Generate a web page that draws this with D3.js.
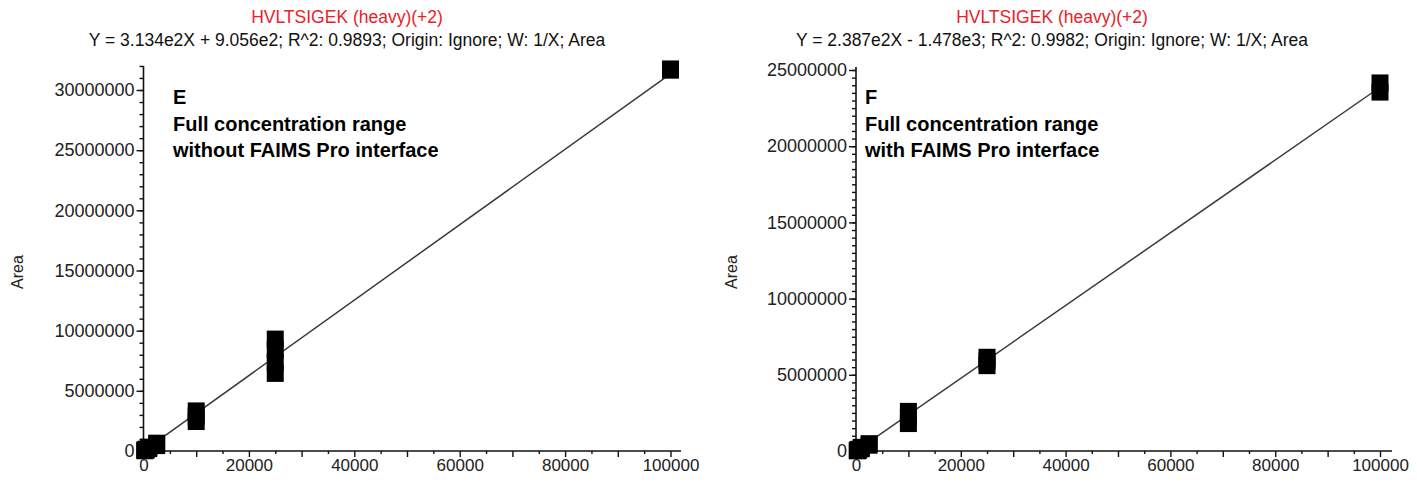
<!DOCTYPE html>
<html>
<head>
<meta charset="utf-8">
<script src="https://cdn.jsdelivr.net/npm/d3@7"></script>
<style>
  html, body { margin: 0; padding: 0; background: #fff; }
  svg { display: block; }
  .narrow { font-family: "Liberation Sans", Arial, Helvetica, sans-serif; }
  .bold { font-family: "Liberation Sans", Arial, Helvetica, sans-serif; font-weight: bold; }
</style>
</head>
<body>
<svg id="chart" width="1417" height="483"></svg>
<script>
// ---------- data ----------
const peptide = "HVLTSIGEK (heavy)(+2)";
const equations = [
  "Y = 3.134e2X + 9.056e2; R^2: 0.9893; Origin: Ignore; W: 1/X; Area",
  "Y = 2.387e2X - 1.478e3; R^2: 0.9982; Origin: Ignore; W: 1/X; Area"
];
const panelLetters = ["E", "F"];
const panelLine1 = ["Full concentration range", "Full concentration range"];
const panelLine2 = ["without FAIMS Pro interface", "with FAIMS Pro interface"];
const slopes = [313.4, 238.7];
const intercepts = [905.6, -1478];
const fitRange = [250, 100000];
const xTickLabels = [0, 20000, 40000, 60000, 80000, 100000];
const yTickLabelsE = [0, 5000000, 10000000, 15000000, 20000000, 25000000, 30000000];
const yTickLabelsF = [0, 5000000, 10000000, 15000000, 20000000, 25000000];

// replicate measurements (concentration, area)
const concE = [250, 250, 500, 500, 1000, 1000, 2500, 2500, 10000, 10000, 10000, 25000, 25000, 25000, 25000, 100000, 100000];
const areaE = [20000, 90000, 80000, 150000, 200000, 320000, 450000, 650000, 2450000, 2900000, 3330000, 6450000, 7400000, 8400000, 9300000, 31650000, 31750000];
const concF = [250, 250, 500, 500, 1000, 1000, 2500, 2500, 10000, 10000, 10000, 25000, 25000, 25000, 100000, 100000];
const areaF = [10000, 60000, 50000, 110000, 150000, 240000, 380000, 480000, 1800000, 2200000, 2600000, 5600000, 5900000, 6150000, 23550000, 24150000];

// ---------- layout ----------
const panels = [
  { x0: 143.5, x1: 670.5, xEnd: 102000, yTop: 32000000, yTopPx: 451 - 32 * 12.033,
    yTicks: yTickLabelsE, yMinorStep: 1000000, conc: concE, area: areaE, cx: 347, labelX: 18, annX: 173 },
  { x0: 856, x1: 1380, xEnd: 102300, yTop: 25200000, yTopPx: 451 - 25.2 * 15.24,
    yTicks: yTickLabelsF, yMinorStep: 500000, conc: concF, area: areaF, cx: 1052, labelX: 732, annX: 865 }
];
const y0px = 451;
const sq = 17;

const svg = d3.select("#chart");

panels.forEach((p, i) => {
  const x = d3.scaleLinear().domain([0, 100000]).range([p.x0, p.x1]);
  const y = d3.scaleLinear().domain([0, p.yTop]).range([y0px, p.yTopPx]);
  const g = svg.append("g");

  // titles
  g.append("text").attr("class", "narrow").attr("x", p.cx).attr("y", 23)
    .attr("text-anchor", "middle").attr("font-size", 17.5).attr("fill", "#ec2027").text(peptide);
  g.append("text").attr("class", "narrow").attr("x", p.cx).attr("y", 46)
    .attr("text-anchor", "middle").attr("font-size", 17.5).attr("fill", "#111").text(equations[i]);

  // y label
  g.append("text").attr("class", "narrow").attr("font-size", 16).attr("fill", "#222")
    .attr("transform", `translate(${p.labelX + 5},${272}) rotate(-90)`)
    .attr("text-anchor", "middle").text("Area");

  // y axis: minor ticks
  const yMinor = d3.range(0, p.yTop + 1, p.yMinorStep);
  const yAxisMinor = d3.axisLeft(y).tickValues(yMinor).tickSize(4).tickFormat("");
  const ga1 = g.append("g").attr("transform", `translate(${p.x0},0)`).call(yAxisMinor);
  ga1.select(".domain").remove();
  ga1.selectAll("line").attr("stroke", "#111").attr("stroke-width", 1.4);

  const yAxis = d3.axisLeft(y).tickValues(p.yTicks).tickSize(7).tickPadding(2).tickFormat(d3.format("d"));
  const ga = g.append("g").attr("transform", `translate(${p.x0},0)`).call(yAxis);
  ga.select(".domain").remove();
  ga.selectAll("line").attr("stroke", "#111").attr("stroke-width", 1.4);
  ga.selectAll("text").attr("class", "narrow").attr("font-size", 18).attr("fill", "#222");
  g.append("line").attr("x1", p.x0).attr("x2", p.x0).attr("y1", y(0) + 2).attr("y2", p.yTopPx)
    .attr("stroke", "#111").attr("stroke-width", 1.6);

  // x axis
  const xMinor = d3.range(5000, p.xEnd, 10000);
  const xAxisMinor = d3.axisBottom(x).tickValues(xMinor).tickSize(3).tickFormat("");
  const gx1 = g.append("g").attr("transform", `translate(0,${y0px})`).call(xAxisMinor);
  gx1.select(".domain").remove();
  gx1.selectAll("line").attr("stroke", "#111").attr("stroke-width", 1.4);

  const xMid = d3.range(10000, p.xEnd, 20000);
  const xAxisMid = d3.axisBottom(x).tickValues(xMid).tickSize(6).tickFormat("");
  const gx2 = g.append("g").attr("transform", `translate(0,${y0px})`).call(xAxisMid);
  gx2.select(".domain").remove();
  gx2.selectAll("line").attr("stroke", "#111").attr("stroke-width", 1.4);

  const xAxis = d3.axisBottom(x).tickValues(xTickLabels).tickSize(6).tickPadding(2).tickFormat(d3.format("d"));
  const gx = g.append("g").attr("transform", `translate(0,${y0px})`).call(xAxis);
  gx.select(".domain").remove();
  gx.selectAll("line").attr("stroke", "#111").attr("stroke-width", 1.4);
  gx.selectAll("text").attr("class", "narrow").attr("font-size", 17).attr("fill", "#222");
  g.append("line").attr("x1", p.x0).attr("x2", x(p.xEnd)).attr("y1", y0px).attr("y2", y0px)
    .attr("stroke", "#111").attr("stroke-width", 1.6);

  // fit line
  const fitLine = d3.line().x(d => x(d)).y(d => y(slopes[i] * d + intercepts[i]));
  g.append("path").datum(fitRange).attr("d", fitLine)
    .attr("fill", "none").attr("stroke", "#3a3a3a").attr("stroke-width", 1.5);

  // points
  const pts = p.conc.map((c, k) => ({ c, a: p.area[k] }));
  g.selectAll("rect.pt").data(pts).join("rect").attr("class", "pt")
    .attr("x", d => x(d.c) - sq / 2).attr("y", d => y(d.a) - sq / 2)
    .attr("width", sq).attr("height", sq).attr("fill", "#000");

  // annotation
  const ann = g.append("text").attr("class", "bold").attr("font-size", 20).attr("fill", "#000");
  ann.append("tspan").attr("x", p.annX).attr("y", 104).text(panelLetters[i]);
  ann.append("tspan").attr("x", p.annX).attr("y", 131).text(panelLine1[i]);
  ann.append("tspan").attr("x", p.annX).attr("y", 157).text(panelLine2[i]);
});
</script>
</body>
</html>
